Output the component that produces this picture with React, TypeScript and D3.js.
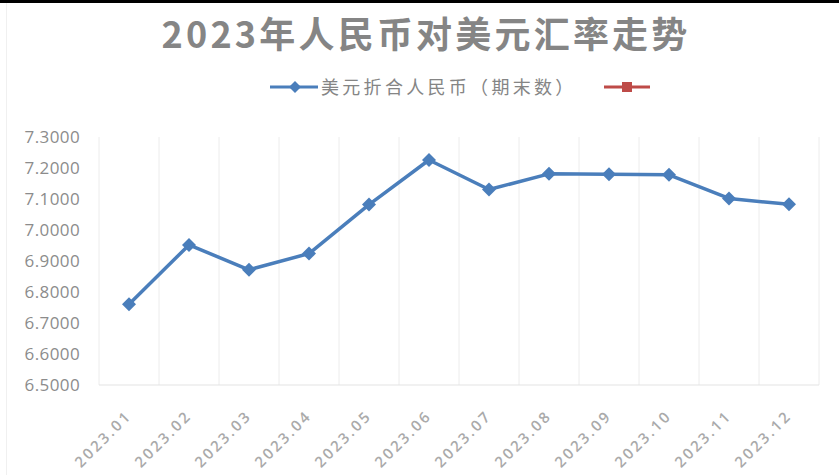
import React from "react";
import * as d3 from "d3";

const months = ["2023.01","2023.02","2023.03","2023.04","2023.05","2023.06","2023.07","2023.08","2023.09","2023.10","2023.11","2023.12"];
const usdCny = [6.7604, 6.9519, 6.8717, 6.9240, 7.0821, 7.2258, 7.1305, 7.1811, 7.1798, 7.1779, 7.1018, 7.0827];
const yTicks = [6.5, 6.6, 6.7, 6.8, 6.9, 7.0, 7.1, 7.2, 7.3];
const title = "2023年人民币对美元汇率走势";
const seriesName = "美元折合人民币（期末数）";

const W = 839, H = 475;
const left = 99, right = 819, top = 137, bottom = 385;

export default function App() {
  const x = d3.scaleBand<string>().domain(months).range([left, right]);
  const y = d3.scaleLinear().domain([6.5, 7.3]).range([bottom, top]);
  const line = d3.line<number>()
    .x((_, i) => (x(months[i]) as number) + x.bandwidth() / 2)
    .y(d => y(d));
  const blue = "#4a7ebb";
  const red = "#be4b48";
  const diamond = (cx: number, cy: number, r: number) =>
    `M${cx},${cy - r}L${cx + r},${cy}L${cx},${cy + r}L${cx - r},${cy}Z`;
  const gridX = [left, ...months.map(m => (x(m) as number) + x.bandwidth())];
  return (
    <svg width={W} height={H} style={{ position: "absolute", left: 0, top: 0, background: "#fff" }}
      fontFamily="'Noto Sans CJK SC', 'Noto Sans', sans-serif">
      <rect x={0} y={0} width={W} height={3} fill="#000" />
      <line x1={6.5} x2={6.5} y1={3} y2={H} stroke="#f0f0f0" />
      <text x={426} y={48} textAnchor="middle" fontSize={36} fontWeight="bold" fill="#858585" letterSpacing={3.2}>{title}</text>
      {/* legend */}
      <line x1={270} x2={318} y1={87} y2={87} stroke={blue} strokeWidth={3} />
      <path d={diamond(295, 87, 6)} fill={blue} />
      <text x={321} y={94} fontSize={18} fill="#858585" letterSpacing={3.3}>{seriesName}</text>
      <line x1={604} x2={650} y1={87} y2={87} stroke={red} strokeWidth={3} />
      <rect x={622} y={82} width={10} height={10} fill={red} />
      {/* grid */}
      {gridX.map((gx, i) => (
        <line key={i} x1={gx} x2={gx} y1={top} y2={bottom} stroke="#ececec" strokeWidth={1} />
      ))}
      <line x1={left} x2={right} y1={bottom} y2={bottom} stroke="#e3e3e3" strokeWidth={1} />
      {/* y labels */}
      {yTicks.map(t => (
        <text key={t} x={80} y={y(t) + 6} textAnchor="end" fontSize={17} fill="#8c8c8c"
          fontFamily="'Open Sans', sans-serif" letterSpacing={0.4}>{t.toFixed(4)}</text>
      ))}
      {/* x labels */}
      {months.map(m => {
        const cx = (x(m) as number) + x.bandwidth() / 2;
        return (
          <text key={m} transform={`translate(${cx},${bottom + 28}) rotate(-45)`} textAnchor="end"
            fontSize={15} fontWeight={600} fill="#aaaaaa" letterSpacing={2.5}
            fontFamily="'Open Sans', sans-serif" dy="0.35em">{m}</text>
        );
      })}
      {/* series */}
      <path d={line(usdCny) || ""} fill="none" stroke={blue} strokeWidth={3.5} strokeLinejoin="round" />
      {usdCny.map((v, i) => (
        <path key={i} d={diamond((x(months[i]) as number) + x.bandwidth() / 2, y(v), 7)} fill={blue} />
      ))}
    </svg>
  );
}
